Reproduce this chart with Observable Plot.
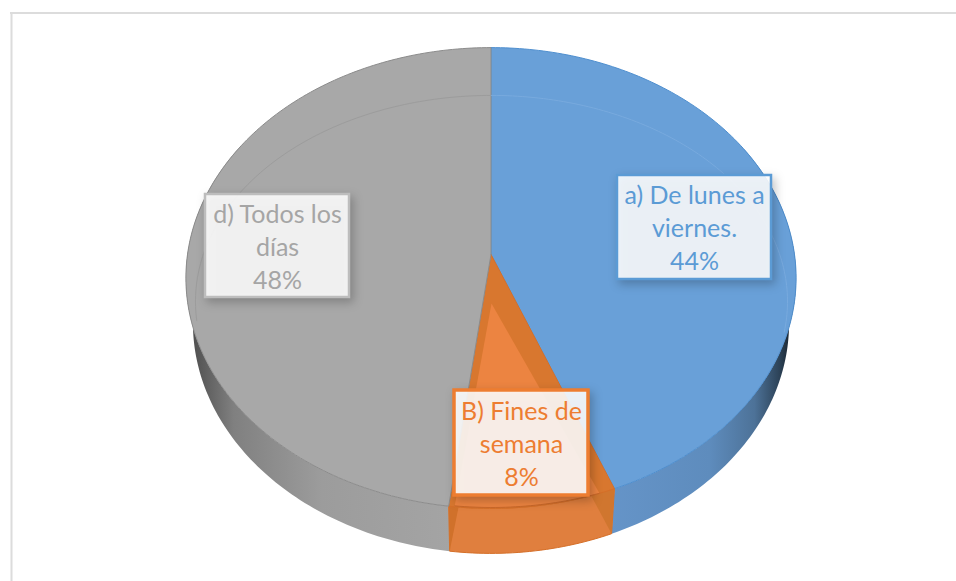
<!DOCTYPE html>
<html lang="es">
<head>
<meta charset="utf-8">
<title>Pie chart</title>
<style>html,body{margin:0;padding:0;background:#fff}svg{display:block}</style>
<script src="https://cdn.jsdelivr.net/npm/d3@7"></script>
<script src="https://cdn.jsdelivr.net/npm/@observablehq/plot@0.6"></script>
</head>
<body>
<div id="chart"></div>
<script>
// ---- chart values ----
const categories = ["a) De lunes a viernes.", "B) Fines de semana", "d) Todos los días"];
const shares = [44, 8, 48];
const labelLines = ["a) De lunes a\nviernes.\n44%", "B) Fines de\nsemana\n8%", "d) Todos los\ndías\n48%"];
const sliceColors = ["#69a0d8", "#d8772f", "#a8a8a8"];
const textColors = ["#5b9bd5", "#ed7d31", "#a5a5a5"];
const strokeColors = ["#4f8fcf", "#d56f28", "#8c8c8c"];
const boxStrokes = ["#5b9bd5", "#ed7d31", "#bdbdbd"];
const boxWidths = [2.5, 3.5, 2.5];

// ---- layout of the tilted disc ----
const W = 956, H = 581;
const face = {cx: 490.5, cy: 254, rx: 303.5, ry: 228, k: 0.102};
const bevel = {cx: 491, cy: 303, rx: 296, ry: 206, k: -0.01};
const depth = {dy: 45, sx: 0.977};
const boxes = [[617, 175, 771, 279], [454, 390, 588, 495], [205, 194, 349, 297]];
const textAt = [[694, 225.5], [521, 441.5], [277, 244.5]];

// projected point on a disc for a clockwise angle from the top (degrees)
function rim(d, deg) {
  const a = deg * Math.PI / 180, u = Math.sin(a), v = Math.cos(a), w = 1 + d.k * v;
  return {x: d.cx + d.rx * u / w, y: d.cy - d.ry * v / w};
}
function under(p) {
  return {x: face.cx + (p.x - face.cx) * depth.sx, y: p.y + depth.dy};
}
function arc(d, a0, a1) {
  const pts = [], n = Math.max(2, Math.ceil(Math.abs(a1 - a0)));
  for (let i = 0; i <= n; i++) pts.push(rim(d, a0 + (a1 - a0) * i / n));
  return pts;
}

// slice angles from the shares
let acc = 0;
const angles = shares.map(s => { const a = [acc, acc + s * 3.6]; acc += s * 3.6; return a; });

const wedge = (d, [a0, a1]) => [{x: d.cx, y: d.cy}, ...arc(d, a0, a1), {x: d.cx, y: d.cy}];
const side = (a0, a1) => {
  const t = arc(face, a0, a1);
  const p = [...t, ...t.slice().reverse().map(under)];
  p.push(p[0]);
  return p;
};
const line = (pts, o) => Plot.line(pts, {x: "x", y: "y", curve: "linear", ...o});

const defs = () => {
  const s = d3.create("svg:defs");
  const grad = (id, x1, x2, stops) => {
    const g = s.append("linearGradient").attr("id", id).attr("gradientUnits", "userSpaceOnUse")
      .attr("x1", x1).attr("x2", x2).attr("y1", 0).attr("y2", 0);
    stops.forEach(([o, c]) => g.append("stop").attr("offset", o).attr("stop-color", c));
  };
  grad("sideGrey", 192, 450, [[0, "#4f4f4f"], [0.16, "#808080"], [0.5, "#9c9c9c"], [1, "#a4a4a4"]]);
  grad("sideBlue", 610, 790, [[0, "#6594c8"], [0.55, "#5e8cbd"], [0.8, "#4d7298"], [0.94, "#2c4257"], [1, "#1a2530"]]);
  return s.node();
};

const blue = 0, orange = 1, grey = 2;
const boxRows = boxes.map(([x1, y1, x2, y2], i) => ({x1, y1, x2, y2, i}));

const marks = [
  defs,
  // chart frame
  Plot.ruleY([12.5], {x1: 10, x2: W, stroke: "#dcdcdc", strokeWidth: 2}),
  Plot.ruleX([11], {y1: 12, y2: H, stroke: "#dcdcdc", strokeWidth: 2}),
  // sides
  line(side(angles[blue][0] + 60, angles[blue][1]), {fill: "url(#sideBlue)"}),
  line(side(angles[grey][0], angles[grey][1] - 60), {fill: "url(#sideGrey)"}),
  line(side(angles[orange][0], angles[orange][1]), {fill: "#e07f3e", stroke: "#d56f28", strokeWidth: 1}),
  // darker facets at the two ends of the orange side
  line([rim(face, angles[orange][0]), under(rim(face, angles[orange][0])), {x: 590, y: 494}, rim(face, angles[orange][0])], {fill: "#d0762f"}),
  line([rim(face, angles[orange][1]), under(rim(face, angles[orange][1])), {x: 458, y: 507}, rim(face, angles[orange][1])], {fill: "#d0712b"}),
  // top face
  ...angles.map((a, i) => line(wedge(face, a), {fill: sliceColors[i], stroke: strokeColors[i], strokeWidth: 1})),
  // inner bevel of the disc
  line(wedge(bevel, angles[orange]), {fill: "#ec8441"}),
  line(arc(bevel, angles[grey][0] + 78, angles[grey][1]), {stroke: "#9c9c9c", strokeWidth: 1}),
  line(arc(bevel, angles[blue][0], angles[blue][0] + 98), {stroke: "#78aade", strokeWidth: 1}),
  line(arc(bevel, angles[orange][0], angles[orange][1]), {stroke: "#c9682a", strokeWidth: 1}),
  // labels
  ...boxRows.map(r => Plot.rect([r], {
    x1: "x1", x2: "x2", y1: "y1", y2: "y2",
    fill: "#fff", fillOpacity: 0.88, stroke: boxStrokes[r.i], strokeWidth: boxWidths[r.i],
    imageFilter: "drop-shadow(3px 4px 5px rgba(0,0,0,0.25))"
  })),
  ...labelLines.map((t, i) => Plot.text([t], {
    x: () => textAt[i][0], y: () => textAt[i][1], text: d => d,
    fill: textColors[i], fontSize: 25, lineHeight: 1.32, textAnchor: "middle",
    fontFamily: "Lato, 'Open Sans', sans-serif"
  }))
];

const chart = Plot.plot({
  width: W, height: H,
  margin: 0,
  x: {type: "linear", domain: [0, W], range: [0, W], axis: null},
  y: {type: "linear", domain: [0, H], range: [0, H], axis: null},
  style: {background: "#fff"},
  marks
});
document.getElementById("chart").append(chart);
</script>
</body>
</html>
